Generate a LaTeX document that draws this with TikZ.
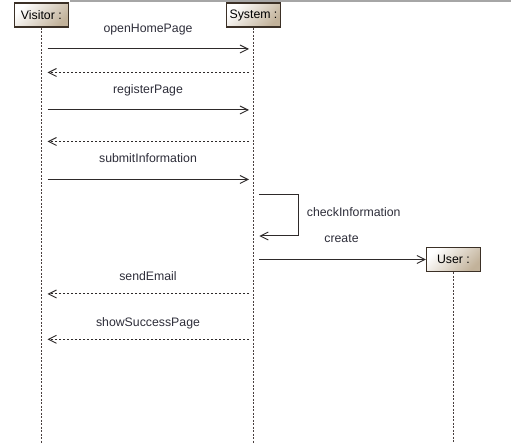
\documentclass[tikz,border=0pt]{standalone}
\usepackage{fontspec}
\setmainfont{Liberation Sans}
\usetikzlibrary{arrows.meta}
\definecolor{boxtan}{HTML}{C2B29A}
\definecolor{boxline}{HTML}{3B3026}
\definecolor{lifecol}{HTML}{4A4040}
\definecolor{msgcol}{HTML}{2E2A2A}
\definecolor{txtcol}{HTML}{2E2E3A}
\tikzset{
  headbox/.style={draw=boxline, line width=1.1pt, minimum width=54pt, minimum height=24pt,
    inner sep=0pt, top color=white, bottom color=boxtan, shading angle=45,
    font=\fontsize{12.3}{14}\selectfont, text=black},
  lifeline/.style={draw=lifecol, line width=0.9pt, dash pattern=on 2pt off 1.5pt},
  msgline/.style={draw=msgcol, line width=1pt, -{Straight Barb[length=8pt,width=8pt,line width=0.9pt]}},
  retline/.style={msgline, dash pattern=on 2.5pt off 1.5pt},
  msglabel/.style={font=\fontsize{12.3}{14}\selectfont, text=txtcol, inner sep=0pt}
}
\begin{document}
\begin{tikzpicture}[x=1pt,y=-1pt]
\useasboundingbox (0,0) rectangle (511,443);
\fill[white] (0,0) rectangle (511,443);
% top frame edge
\coordinate (fa) at (70,1);
\coordinate (fb) at (511,1);
\draw[draw=black!35, line width=1.5pt] (fa) -- (fb);
% heads
\node[headbox] (vis) at (41.3,15) {Visitor :};
\node[headbox] (sys) at (253.5,15) {System :};
\node[headbox] (usr) at (453.5,259.5) {User :};
% lifeline ends
\coordinate (visEnd) at (41.3,443);
\coordinate (sysEnd) at (253.5,443);
\coordinate (usrEnd) at (453.5,443);
\draw[lifeline] (vis.south) -- (visEnd);
\draw[lifeline] (sys.south) -- (sysEnd);
\draw[lifeline] (usr.south) -- (usrEnd);
% message endpoints
\coordinate (v1) at (47.5,49); \coordinate (s1) at (249,49);
\coordinate (v2) at (47.5,72.5); \coordinate (s2) at (249,72.5);
\coordinate (v3) at (47.5,110); \coordinate (s3) at (249,110);
\coordinate (v4) at (47.5,141.5); \coordinate (s4) at (249,141.5);
\coordinate (v5) at (47.5,179.5); \coordinate (s5) at (249,179.5);
\coordinate (la) at (259.3,195); \coordinate (lb) at (298.3,195);
\coordinate (lc) at (298.3,236); \coordinate (ld) at (259.3,236);
\coordinate (s6) at (259.3,259.5);
\coordinate (v7) at (47.5,294); \coordinate (s7) at (249,294);
\coordinate (v8) at (47.5,339.3); \coordinate (s8) at (249,339.3);
% messages
\draw[msgline] (v1) -- (s1);
\node[msglabel] (l1) at (148,29.3) {openHomePage};
\draw[retline] (s2) -- (v2);
\draw[msgline] (v3) -- (s3);
\node[msglabel] (l3) at (148,90) {registerPage};
\draw[retline] (s4) -- (v4);
\draw[msgline] (v5) -- (s5);
\node[msglabel] (l5) at (148,158.3) {submitInformation};
\draw[msgline] (la) -- (lb) -- (lc) -- (ld);
\node[msglabel, anchor=west] (l6) at (306.7,211.7) {checkInformation};
\draw[msgline] (s6) -- (usr.west);
\node[msglabel] (l7) at (341.5,239) {create};
\draw[retline] (s7) -- (v7);
\node[msglabel] (l8) at (148,276.2) {sendEmail};
\draw[retline] (s8) -- (v8);
\node[msglabel] (l9) at (148,323.5) {showSuccessPage};
\end{tikzpicture}
\end{document}
